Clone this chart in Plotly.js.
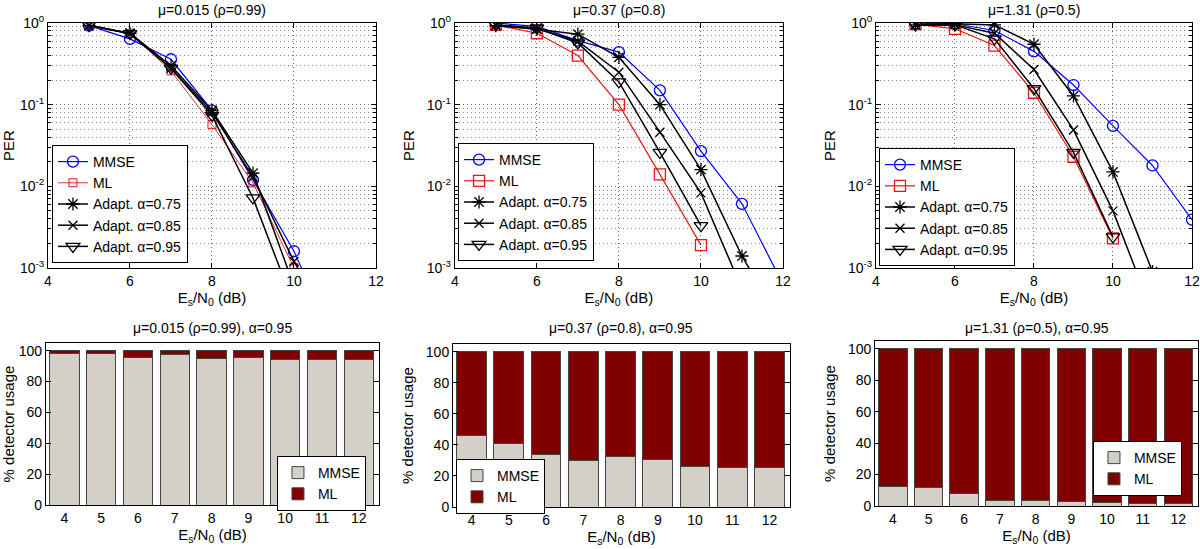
<!DOCTYPE html>
<html>
<head>
<meta charset="utf-8">
<script src="https://cdn.plot.ly/plotly-3.0.1.min.js"></script>
<style>
  html, body { margin: 0; padding: 0; background: #fff; }
  #chart { width: 1200px; height: 549px; }
</style>
</head>
<body>
<div id="chart"></div>
<script>
// Es/N0 points (dB)
var snr = [4, 5, 6, 7, 8, 9, 10, 11, 12];

// PER, mu=0.015 (rho=0.99)
var mmse1 = [null, 0.93, 0.64, 0.36, 0.085, 0.012, 0.0016, 0.00012, null];
var ml1   = [null, 0.95, 0.75, 0.26, 0.057, 0.011, 0.001, null, null];
var a75_1 = [null, 0.93, 0.75, 0.30, 0.085, 0.0145, 0.0006, null, null];
var a85_1 = [null, 0.93, 0.74, 0.28, 0.08, 0.013, 0.0012, 0.00015, null];
var a95_1 = [null, 0.95, 0.74, 0.28, 0.074, 0.0072, 0.00035, null, null];

// PER, mu=0.37 (rho=0.8)
var mmse2 = [null, 1.0, 0.91, 0.61, 0.44, 0.15, 0.027, 0.0061, 0.00063];
var ml2   = [null, 0.95, 0.75, 0.40, 0.10, 0.014, 0.0019, null, null];
var a75_2 = [null, 0.93, 0.84, 0.73, 0.38, 0.10, 0.016, 0.0014, 0.00019];
var a85_2 = [null, 0.95, 0.85, 0.60, 0.25, 0.046, 0.0083, 0.00055, null];
var a95_2 = [null, 0.95, 0.87, 0.57, 0.19, 0.026, 0.0033, null, null];

// PER, mu=1.31 (rho=0.5)
var mmse3 = [null, 1.0, 0.98, 0.81, 0.45, 0.174, 0.055, 0.018, 0.0039];
var ml3   = [null, 0.97, 0.85, 0.53, 0.14, 0.023, 0.0023, null, null];
var a75_3 = [null, 0.95, 0.98, 0.95, 0.55, 0.128, 0.015, 0.0009, null];
var a85_3 = [null, 0.95, 0.95, 0.75, 0.27, 0.049, 0.005, 0.00028, null];
var a95_3 = [null, 0.95, 0.95, 0.64, 0.157, 0.026, 0.0024, null, null];

// % detector usage, alpha=0.95
var mmseUse1 = [98.5, 98.5, 95.7, 97.4, 95.2, 95.5, 94.6, 94.4, 94.4];
var mlUse1   = [1.5, 1.5, 4.3, 2.6, 4.8, 4.5, 5.4, 5.6, 5.6];
var mmseUse2 = [45.8, 40.9, 33.5, 30.0, 32.5, 30.8, 26.4, 25.3, 25.3];
var mlUse2   = [54.2, 59.1, 66.5, 70.0, 67.5, 69.2, 73.6, 74.7, 74.7];
var mmseUse3 = [12.5, 11.5, 7.9, 3.2, 3.4, 2.8, 2.1, 1.9, 1.9];
var mlUse3   = [87.5, 88.5, 92.1, 96.8, 96.6, 97.2, 97.9, 98.1, 98.1];

var perTicks = [0.001, 0.01, 0.1, 1];
var perTickText = ['10<sup>-3</sup>', '10<sup>-2</sup>', '10<sup>-1</sup>', '10<sup>0</sup>'];
var perMinor = [];
[0.001, 0.01, 0.1].forEach(function (d) {
  for (var k = 2; k <= 9; k++) perMinor.push(k * d);
});

var topTitles = ['\u03bc=0.015 (\u03c1=0.99)', '\u03bc=0.37 (\u03c1=0.8)', '\u03bc=1.31 (\u03c1=0.5)'];
var botTitles = ['\u03bc=0.015 (\u03c1=0.99), \u03b1=0.95', '\u03bc=0.37 (\u03c1=0.8), \u03b1=0.95', '\u03bc=1.31 (\u03c1=0.5), \u03b1=0.95'];

var perSets = [
  [mmse1, ml1, a75_1, a85_1, a95_1],
  [mmse2, ml2, a75_2, a85_2, a95_2],
  [mmse3, ml3, a75_3, a85_3, a95_3]
];
var useSets = [[mmseUse1, mlUse1], [mmseUse2, mlUse2], [mmseUse3, mlUse3]];

var seriesNames = ['MMSE', 'ML', 'Adapt. \u03b1=0.75', 'Adapt. \u03b1=0.85', 'Adapt. \u03b1=0.95'];
var seriesColors = ['rgb(0,0,255)', 'rgb(235,20,20)', 'black', 'black', 'black'];
var seriesSymbols = ['circle-open', 'square-open', 'asterisk-open', 'x-thin-open', 'triangle-down-open'];
var seriesSizes = [11, 11, 11, 9, 12];

var data = [];
perSets.forEach(function (set, p) {
  var ax = p === 0 ? '' : String(p + 1);
  var lg = p === 0 ? 'legend' : 'legend' + (p + 1);
  set.forEach(function (vals, s) {
    var small = (p === 0 && s === 1);
    data.push({
      x: snr, y: vals, name: seriesNames[s],
      type: 'scatter', mode: 'lines+markers',
      xaxis: 'x' + ax, yaxis: 'y' + ax, legend: lg,
      line: {color: seriesColors[s], width: s < 2 ? (small ? 0.9 : 1.2) : 1.5},
      marker: {symbol: seriesSymbols[s], size: small ? 8 : seriesSizes[s],
               color: seriesColors[s], line: {color: seriesColors[s], width: small ? 1 : 1.3}}
    });
  });
});

useSets.forEach(function (set, p) {
  var ax = String(p + 4);
  var lg = 'legend' + (p + 4);
  data.push({
    x: snr, y: set[0], name: 'MMSE', type: 'bar',
    xaxis: 'x' + ax, yaxis: 'y' + ax, legend: lg,
    marker: {color: 'rgb(212,208,200)', line: {color: '#444', width: 1}}
  });
  data.push({
    x: snr, y: set[1], name: 'ML', type: 'bar',
    xaxis: 'x' + ax, yaxis: 'y' + ax, legend: lg,
    marker: {color: 'rgb(128,0,0)', line: {color: '#444', width: 1}}
  });
});

var family = 'Liberation Sans, Arial, sans-serif';
var font = {family: family, size: 14, color: 'black'};
var tickFont = {family: family, size: 14, color: 'black'};
var labelFont = {family: family, size: 15, color: 'black'};
var xTitle = 'E<sub>s</sub>/N<sub>0</sub> (dB)';

function frame(extra) {
  var a = {
    showline: true, mirror: 'ticks', linecolor: 'black', linewidth: 1,
    ticks: 'inside', ticklen: 5, tickcolor: 'black', zeroline: false,
    tickfont: tickFont
  };
  for (var k in extra) a[k] = extra[k];
  return a;
}

var topX = [[0.040, 0.3133], [0.379, 0.6525], [0.730, 0.9933]];
var topY = [0.512, 0.958];
var botX = [[0.0383, 0.3158], [0.3775, 0.6583], [0.7292, 0.9983]];
var botY = [[0.0801, 0.3752], [0.0765, 0.3734], [0.0783, 0.3789]];

var layout = {
  width: 1200, height: 549,
  margin: {l: 0, r: 0, t: 0, b: 0},
  paper_bgcolor: 'white', plot_bgcolor: 'white',
  font: font,
  barmode: 'stack', bargap: 0.2,
  annotations: []
};

for (var i = 0; i < 3; i++) {
  var n = i === 0 ? '' : String(i + 1);
  layout['xaxis' + n] = frame({
    domain: topX[i], anchor: 'y' + n, range: [4, 12], dtick: 2, tick0: 4,
    showgrid: true, gridcolor: '#666', griddash: '1px,3px', gridwidth: 1,
    title: {text: xTitle, font: labelFont, standoff: 4}
  });
  layout['yaxis' + n] = frame({
    domain: topY, anchor: 'x' + n, type: 'log', range: [-3, 0],
    tickmode: 'array', tickvals: perTicks, ticktext: perTickText,
    showgrid: true, gridcolor: '#666', griddash: '1px,3px', gridwidth: 1,
    minor: {tickmode: 'array', tickvals: perMinor, ticks: 'inside', ticklen: 3,
            tickcolor: 'black', showgrid: true, gridcolor: '#888', griddash: '1px,3px', gridwidth: 1},
    title: {text: 'PER', font: labelFont, standoff: 8}
  });

  var m = String(i + 4);
  layout['xaxis' + m] = frame({
    domain: botX[i], anchor: 'y' + m, range: [3.5, 12.55], dtick: 1, tick0: 4,
    showgrid: false, ticks: 'outside', ticklen: 0,
    title: {text: xTitle, font: labelFont, standoff: 2}
  });
  layout['yaxis' + m] = frame({
    domain: botY[i], anchor: 'x' + m, range: [0, 105], dtick: 20,
    showgrid: false,
    title: {text: '% detector usage', font: labelFont, standoff: 8}
  });

  layout.annotations.push({
    text: topTitles[i], xref: 'paper', yref: 'paper',
    x: (topX[i][0] + topX[i][1]) / 2, y: 0.982, xanchor: 'center', yanchor: 'middle',
    showarrow: false, font: font
  });
  layout.annotations.push({
    text: botTitles[i], xref: 'paper', yref: 'paper',
    x: (botX[i][0] + botX[i][1]) / 2, y: 0.4026, xanchor: 'center', yanchor: 'middle',
    showarrow: false, font: font
  });
}

var legendPos = [[0.0433, 0.7359], [0.3817, 0.7395], [0.7325, 0.7304],
                 [0.2308, 0.1694], [0.380, 0.1639], [0.9108, 0.1967]];
legendPos.forEach(function (pos, k) {
  var key = k === 0 ? 'legend' : 'legend' + (k + 1);
  layout[key] = {
    x: pos[0], y: pos[1], xanchor: 'left', yanchor: 'top',
    xref: 'paper', yref: 'paper',
    bgcolor: 'white', bordercolor: 'black', borderwidth: 1,
    font: {family: family, size: 14, color: 'black'},
    traceorder: 'normal'
  };
});

Plotly.newPlot('chart', data, layout, {staticPlot: true});
</script>
</body>
</html>
